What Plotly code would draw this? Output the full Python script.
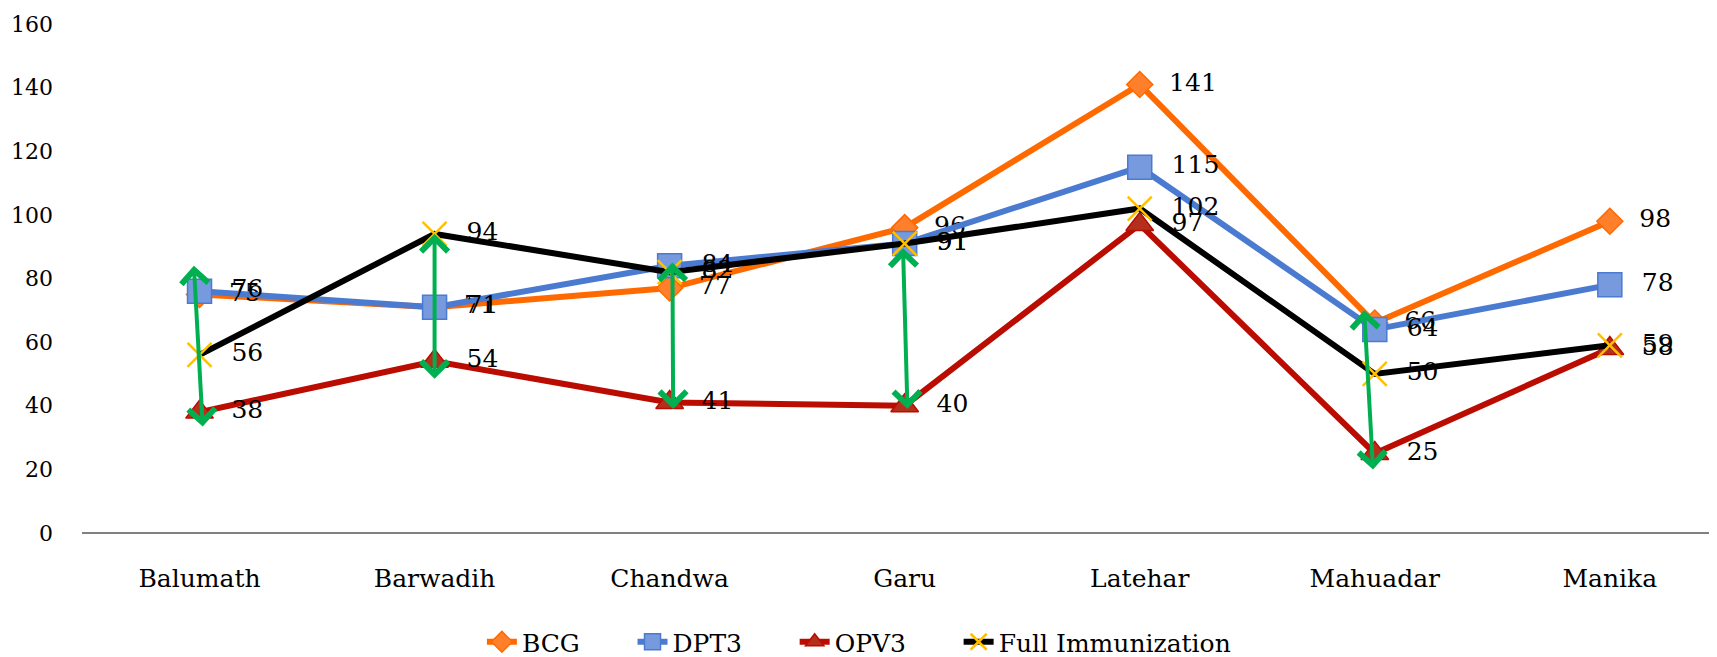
import plotly.graph_objects as go

# Blocks and immunization counts
blocks = ["Balumath", "Barwadih", "Chandwa", "Garu", "Latehar", "Mahuadar", "Manika"]
bcg = [75, 71, 77, 96, 141, 66, 98]
dpt3 = [76, 71, 84, 91, 115, 64, 78]
opv3 = [38, 54, 41, 40, 97, 25, 58]
full_imm = [56, 94, 82, 91, 102, 50, 59]

# green gap arrows (block index, top value, bottom value)
arrow_idx = [0, 1, 2, 3, 5]
arrow_top = [84, 94, 85, 89.5, 70]
arrow_bottom = [33, 48, 38.5, 38.5, 19.5]
arrow_top_dx = [-0.024, 0, 0.012, -0.007, -0.045]
arrow_bottom_dx = [0.014, 0, 0.015, 0.012, -0.007]

FONT = "DejaVu Serif"
xs = list(range(len(blocks)))
PAD = "\u00a0" * 6  # spacing between legend entries

series = [
    ("BCG", bcg, "#FF6A00", dict(symbol="diamond", size=20, color="#FF7F2A", line=dict(color="#FF6A00", width=1.5))),
    ("DPT3", dpt3, "#4A7BD0", dict(symbol="square", size=24, color="#7799DD", line=dict(color="#4A7BD0", width=1.5))),
    ("OPV3", opv3, "#BA0C00", dict(symbol="triangle-up", size=24, color="#B5301C", line=dict(color="#BA0C00", width=1.5))),
    ("Full Immunization", full_imm, "#000000", dict(symbol="x-thin-open", size=24, color="#FFC000", line=dict(color="#FFC000", width=2.5))),
]

fig = go.Figure()
for k, (name, vals, col, mk) in enumerate(series):
    fig.add_trace(go.Scatter(
        x=xs, y=vals, name=name + (PAD if k < len(series) - 1 else ""),
        mode="lines+markers+text",
        line=dict(color=col, width=6),
        marker=mk,
        text=["  " + str(v) for v in vals],
        textposition="middle right",
        textfont=dict(family=FONT, size=25, color="#000000"),
        cliponaxis=False,
    ))

for i, top, bot, dt, db in zip(arrow_idx, arrow_top, arrow_bottom, arrow_top_dx, arrow_bottom_dx):
    fig.add_annotation(
        x=i + dt, y=top, ax=i + db, ay=bot, xref="x", yref="y", axref="x", ayref="y",
        text="", showarrow=True, arrowside="end+start",
        arrowhead=4, startarrowhead=4, arrowsize=1.3, startarrowsize=1.3,
        arrowwidth=4, arrowcolor="#00B050",
    )

fig.update_layout(
    width=1717, height=657,
    margin=dict(l=74, r=0, t=16, b=132),
    paper_bgcolor="white", plot_bgcolor="white",
    font=dict(family=FONT, size=22, color="#000000"),
    showlegend=True,
    legend=dict(
        orientation="h", xref="container", yref="container",
        x=0.276, xanchor="left", y=0.0, yanchor="bottom",
        font=dict(family=FONT, size=25),
    ),
    xaxis=dict(
        range=[-0.5, 6.49], tickvals=xs, ticktext=blocks, automargin=False,
        showgrid=False, zeroline=False, showline=False,
        ticklabelstandoff=28, tickfont=dict(size=25),
    ),
    yaxis=dict(
        range=[0, 160], dtick=20, showgrid=False, zeroline=True, automargin=False,
        zerolinecolor="#808080", zerolinewidth=2, showline=False,
        ticklabelstandoff=28, tickfont=dict(size=22),
    ),
)

fig.write_html("out.html")
